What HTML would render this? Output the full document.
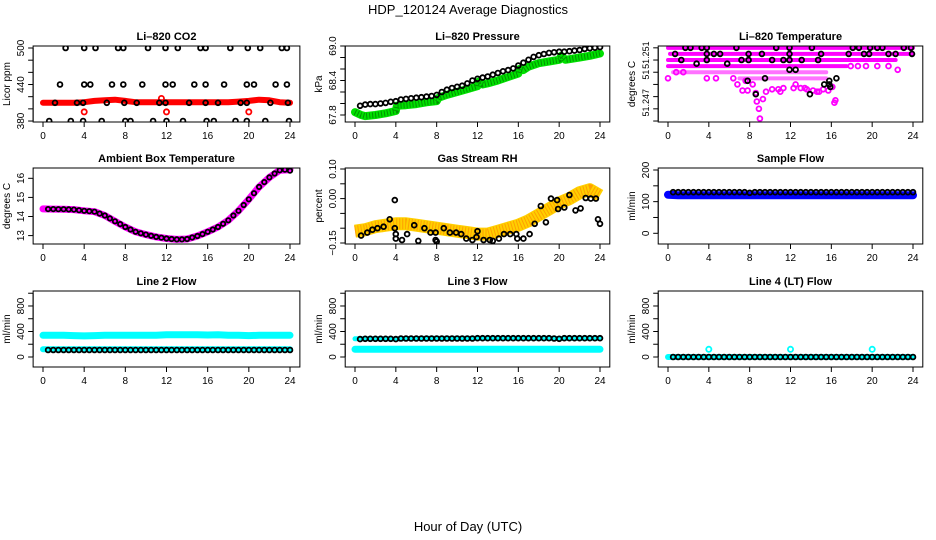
<!DOCTYPE html>
<html><head><meta charset="utf-8"><style>
html,body{margin:0;padding:0;background:#fff;}
svg{display:block;font-family:"Liberation Sans",Arial,sans-serif;}
</style></head><body>
<svg id="chart" width="936" height="540" viewBox="0 0 936 540" xmlns="http://www.w3.org/2000/svg">
<text x="468" y="14" text-anchor="middle" font-size="13">HDP_120124  Average Diagnostics</text>
<text x="468" y="531" text-anchor="middle" font-size="13">Hour of Day (UTC)</text>
</svg>
<script>
// ---------- data ----------
const blackHours=[0.5,1,1.5,2,2.5,3,3.5,4,4.5,5,5.5,6,6.5,7,7.5,8,8.5,9,9.5,10,10.5,11,11.5,12,12.5,13,13.5,14,14.5,15,15.5,16,16.5,17,17.5,18,18.5,19,19.5,20,20.5,21,21.5,22,22.5,23,23.5,24];
const bandHours=[0,1,2,3,4,5,6,7,8,9,10,11,12,13,14,15,16,17,18,19,20,21,22,23,24];
const xTicks=[0,4,8,12,16,20,24];

// CO2
const co2Band=[410,410,410,410,411,413,414,415,413,411,411,411,411,411,411,411,411,411,411,412,413,415,414,411,410];
const co2BlackHours=[2.2,4.0,5.1,7.3,7.8,10.2,11.9,13.1,15.3,15.8,18.2,19.9,21.1,23.2,23.7,1.65,4.0,4.6,6.7,7.8,9.65,11.9,12.6,14.7,15.8,17.6,19.8,20.5,22.6,23.7,1.17,3.3,3.9,6.2,7.9,9.1,11.3,11.9,14.2,15.8,17.0,19.2,19.8,22.1,23.8,0.6,2.7,3.9,5.7,8.0,8.5,10.7,12.0,13.6,15.9,16.6,18.7,19.8,21.6,23.9];
const co2BlackValues=[500,500,500,500,500,500,500,500,500,500,500,500,500,500,500,440,440,440,440,440,440,440,440,440,440,440,440,440,440,440,410,410,410,410,410,410,410,410,410,410,410,410,410,410,410,380,380,380,380,380,380,380,380,380,380,380,380,380,380,380];
const co2RedHours=[4,12,20,11.5];
const co2RedValues=[395,395,395,417];

// Pressure
const presBlack=[67.96,67.98,67.99,67.99,68.0,68.01,68.03,68.04,68.07,68.08,68.09,68.1,68.11,68.12,68.13,68.15,68.2,68.24,68.27,68.29,68.31,68.35,68.4,68.43,68.45,68.47,68.5,68.53,68.56,68.58,68.61,68.66,68.71,68.76,68.81,68.84,68.86,68.88,68.89,68.9,68.9,68.91,68.92,68.93,68.95,68.96,68.97,68.98];
const presGreenHours=[0,0.6,1,2,3,4,4.1,5,6,7,8,8.2,9,10,11,12,12.1,12.5,13,14,15,16,16.1,16.5,17,18,19,20,20.2,20.6,21,22,23,24];
const presGreenValues=[67.85,67.8,67.78,67.8,67.83,67.87,67.96,67.97,67.99,68.02,68.04,68.1,68.15,68.2,68.25,68.3,68.38,68.33,68.35,68.4,68.46,68.52,68.6,68.58,68.64,68.7,68.73,68.76,68.83,68.76,68.77,68.8,68.83,68.87];

// Li-820 temperature
const tRowValues=[51.252,51.2515,51.251,51.2505,51.25,51.2495];
const tRowStart=[0,0.2,0,0,0.5,7];
const tRowEnd=[24,23.9,22.3,17.5,15.5,15.5];
const tMagHours=[0,0.8,1.5,3.8,4.7,6.4,6.8,7.3,7.8,8.3,8.6,8.9,9.3,9.6,10.2,10.8,11.3,12.5,13.0,13.6,14.2,14.8,15.2,15.7,16.1,16.4,17.9,18.6,19.4,20.5,21.6,22.5,9.0,8.7,12.3,13.4,11.0,16.3,7.6,14.6];
const tMagValues=[51.2495,51.25,51.25,51.2495,51.2495,51.2495,51.249,51.2485,51.2485,51.249,51.2483,51.247,51.2478,51.2484,51.2486,51.2486,51.2487,51.249,51.2487,51.2486,51.2485,51.2484,51.2486,51.2485,51.2488,51.2477,51.2505,51.2505,51.2505,51.2505,51.2505,51.2502,51.2462,51.2476,51.2487,51.2487,51.2484,51.2475,51.2493,51.2484];
const tBlackHours=[1.7,2.2,3.3,3.8,6.7,10.6,11.9,14.1,18.1,18.7,19.8,20.5,21.0,23.1,23.8,0.7,3.8,4.5,5.1,7.9,9.2,11.9,15.0,17.7,19.2,19.7,21.6,22.3,23.9,1.3,3.8,7.2,7.9,10.2,11.3,11.9,13.1,14.7,2.8,5.8,11.9,12.5,9.5,16.5,7.8,15.8,15.3,15.8,15.9,8.6,13.9];
const tBlackValues=[51.252,51.252,51.252,51.252,51.252,51.252,51.252,51.252,51.252,51.252,51.252,51.252,51.252,51.252,51.252,51.2515,51.2515,51.2515,51.2515,51.2515,51.2515,51.2515,51.2515,51.2515,51.2515,51.2515,51.2515,51.2515,51.2515,51.251,51.251,51.251,51.251,51.251,51.251,51.251,51.251,51.251,51.2507,51.2507,51.2502,51.2502,51.2495,51.2495,51.2493,51.2493,51.249,51.249,51.2488,51.2482,51.2482];

// Ambient box temperature
const ambBand=[14.4,14.39,14.38,14.36,14.3,14.25,14.05,13.75,13.45,13.2,13.05,12.93,12.85,12.8,12.82,12.98,13.2,13.45,13.8,14.3,14.9,15.55,16.05,16.42,16.45];
const ambBlack=[14.39,14.39,14.38,14.38,14.37,14.36,14.33,14.3,14.28,14.25,14.15,14.05,13.9,13.75,13.6,13.45,13.32,13.2,13.12,13.05,12.99,12.93,12.89,12.85,12.82,12.8,12.8,12.82,12.9,12.98,13.08,13.2,13.32,13.45,13.62,13.8,14.05,14.3,14.6,14.9,15.22,15.55,15.8,16.05,16.25,16.42,16.45,16.4];

// Gas stream RH
const rhBand=[-0.11,-0.105,-0.095,-0.09,-0.085,-0.085,-0.09,-0.095,-0.1,-0.105,-0.11,-0.115,-0.12,-0.12,-0.11,-0.1,-0.09,-0.075,-0.055,-0.035,-0.015,0.0,0.02,0.03,0.01];
const rhBlackHours=[0.6,1.2,1.7,2.2,2.8,3.4,3.9,3.9,4.0,4.0,4.6,5.1,5.8,6.2,6.8,7.4,7.9,7.9,8.0,8.7,9.3,9.9,10.4,10.9,11.5,11.9,12.0,12.6,13.2,13.5,14.1,14.6,15.2,15.8,15.9,16.5,17.1,17.6,18.2,18.7,19.2,19.8,19.9,20.5,21.0,21.6,22.1,22.6,23.1,23.6,23.8,24];
const rhBlackValues=[-0.125,-0.115,-0.105,-0.1,-0.095,-0.07,-0.005,-0.1,-0.12,-0.135,-0.14,-0.12,-0.09,-0.143,-0.1,-0.115,-0.115,-0.14,-0.145,-0.1,-0.115,-0.115,-0.12,-0.135,-0.14,-0.13,-0.11,-0.14,-0.14,-0.143,-0.135,-0.12,-0.12,-0.12,-0.135,-0.135,-0.12,-0.085,-0.025,-0.08,0.0,-0.005,-0.035,-0.03,0.012,-0.04,-0.033,0.002,0.0,0.0,-0.07,-0.085];

// Flows
const sampleBlue=[122,120,120,120,120,120,120,120,120,120,120,120,120,120,120,120,120,120,120,120,120,120,120,120,120];
const sampleBlack=[130,130,130,130,130,130,130,130,130,130,130,130,130,130,130,128,130,130,130,130,130,130,130,130,130,130,130,130,130,130,130,130,130,130,130,130,130,130,130,130,130,130,130,130,130,130,130,130];
const line2CyanHigh=[340,340,340,335,330,335,340,340,340,340,340,340,350,350,350,350,345,350,340,340,335,340,340,340,340];
const line2CyanLow=[120,120,120,120,120,120,120,120,120,120,120,120,120,120,120,120,120,120,120,120,120,120,120,120,120];
const line2Black=[110,110,110,110,110,110,110,110,110,110,110,110,110,110,110,110,110,110,110,110,110,110,110,110,110,110,110,110,110,110,110,110,110,110,110,110,110,110,110,110,110,110,110,110,110,110,110,110];
const line3CyanLow=[120,120,120,120,120,120,120,120,120,120,120,120,120,120,120,120,120,120,120,120,120,120,120,120,120];
const line3CyanHigh=[285,285,285,285,280,290,290,295,295,295,295,295,295,295,295,295,295,295,295,295,290,295,295,295,295];
const line3Black=[280,285,285,285,285,285,285,280,290,290,290,290,290,290,290,290,290,290,290,290,290,290,290,295,295,295,295,295,295,295,295,295,295,295,295,295,295,295,290,285,295,295,295,295,295,295,295,295];
const line4Cyan=[0,0,0,0,0,0,0,0,0,0,0,0,0,0,0,0,0,0,0,0,0,0,0,0,0];
const line4Black=[0,0,0,0,0,0,0,0,0,0,0,0,0,0,0,0,0,0,0,0,0,0,0,0,0,0,0,0,0,0,0,0,0,0,0,0,0,0,0,0,0,0,0,0,0,0,0,0];
const line4SpikeHours=[4,12,20];
const line4SpikeValues=[120,120,120];

// ---------- drawing ----------
const NS="http://www.w3.org/2000/svg";
const svg=document.getElementById('chart');
const cols=[{x0:43,x1:290},{x0:355,x1:600},{x0:668,x1:913}];
const rows=[{top:46,bot:122},{top:168,bot:244},{top:291,bot:367}];
function mk(tag,attrs,parent){const e=document.createElementNS(NS,tag);for(const k in attrs)e.setAttribute(k,attrs[k]);(parent||svg).appendChild(e);return e;}

function makePanel(name,title,ylabel,c,r,yMin,yMax,yTicks,yLabelVals,yLabelText,labelSize){
  const col=cols[c],row=rows[r];
  const X=h=>col.x0+(h/24)*(col.x1-col.x0);
  const Y=v=>row.bot-(v-yMin)/(yMax-yMin)*(row.bot-row.top);
  const g=mk('g',{});
  
  
  const bl=X(-0.96),br=X(24.96);
  const t=mk('text',{x:(bl+br)/2,y:row.top-6,'text-anchor':'middle','font-size':'11','font-weight':'bold'},g);
  t.textContent=title;
  
  
  const yt=mk('text',{transform:`translate(${bl-23},${(row.top+row.bot)/2}) rotate(-90)`,'text-anchor':'middle','font-size':'10'},g);
  yt.textContent=ylabel;
  
  
  const ya=mk('g',{},g);
  
  
  mk('line',{x1:bl,x2:bl,y1:Y(yTicks[0]),y2:Y(yTicks[yTicks.length-1]),stroke:'#000','stroke-width':1},ya);
  yTicks.forEach(v=>{mk('line',{x1:bl-5,x2:bl,y1:Y(v),y2:Y(v),stroke:'#000','stroke-width':1},ya);});
  yLabelVals.forEach((v,i)=>{const tx=mk('text',{transform:`translate(${bl-9},${Y(v)}) rotate(-90)`,'text-anchor':'middle','font-size':labelSize||'10'},ya);tx.textContent=yLabelText[i];});
  const xa=mk('g',{},g);
  
  
  mk('line',{x1:X(0),x2:X(24),y1:row.bot,y2:row.bot,stroke:'#000','stroke-width':1},xa);
  xTicks.forEach(h=>{mk('line',{x1:X(h),x2:X(h),y1:row.bot,y2:row.bot+5,stroke:'#000','stroke-width':1},xa);
    const tx=mk('text',{x:X(h),y:row.bot+17,'text-anchor':'middle','font-size':'10'},xa);tx.textContent=String(h);});
  const clipId='clip-'+name;
  const cp=mk('clipPath',{id:clipId},g);mk('rect',{x:bl,y:row.top,width:br-bl,height:row.bot-row.top},cp);
  const plot=mk('g',{'clip-path':`url(#${clipId})`},g);
  const box=mk('rect',{x:bl,y:row.top,width:br-bl,height:row.bot-row.top,fill:'none',stroke:'#000','stroke-width':1},g);
  
  
  return {X,Y,plot};
}
function band(p,name,hours,vals,color,w,dot,cap){
  const d=hours.map((h,i)=>(i?'L':'M')+p.X(h).toFixed(1)+','+p.Y(vals[i]).toFixed(1)).join('');
  const e=mk('path',{d,fill:'none',stroke:color,'stroke-width':w,'stroke-linejoin':'round','stroke-linecap':cap||'round'},p.plot);
  
  
  if(dot){mk('path',{d,fill:'none',stroke:dot,'stroke-width':w-2,'stroke-dasharray':'1 2','stroke-linejoin':'round',opacity:0.6},p.plot);}
}
function pts(p,name,hours,vals,color,r){
  const g=mk('g',{},p.plot);
  
  
  hours.forEach((h,i)=>{mk('circle',{cx:p.X(h).toFixed(1),cy:p.Y(vals[i]).toFixed(1),r:r||2.4,fill:'none',stroke:color,'stroke-width':1.8},g);});
}

// Panel 1: CO2
let p=makePanel('co2','Li\u2013820 CO2','Licor ppm',0,0,378.4,503.3,[380,400,420,440,460,480,500],[380,440,500],['380','440','500']);
band(p,'co2-red-band',bandHours,co2Band,'#ff0000',6);
pts(p,'co2-red-points',co2RedHours,co2RedValues,'#ff0000',2.6);
pts(p,'co2-black-points',co2BlackHours,co2BlackValues,'#000');

// Panel 2: Pressure
p=makePanel('pressure','Li\u2013820 Pressure','kPa',1,0,67.678,69.0,[67.8,68.0,68.2,68.4,68.6,68.8,69.0],[67.8,68.4,69.0],['67.8','68.4','69.0']);
band(p,'pressure-green-band',presGreenHours,presGreenValues,'#00e000',8,'#006000');
pts(p,'pressure-black-points',blackHours,presBlack,'#000');

// Panel 3: Li-820 temperature
p=makePanel('li820-temp','Li\u2013820 Temperature','degrees C',2,0,51.24592,51.25215,[51.246,51.247,51.248,51.249,51.25,51.251,51.252],[51.2514,51.2498,51.2475],['51.251','51','51.247'],'9');
{const g=mk('g',{},p.plot);
 tRowValues.forEach((v,i)=>{mk('line',{x1:p.X(tRowStart[i]),x2:p.X(tRowEnd[i]),y1:p.Y(v),y2:p.Y(v),stroke:'#ff00ff','stroke-width':4,'stroke-linecap':'round',opacity:i>3?0.55:1},g);});}
pts(p,'li820-temp-magenta-points',tMagHours,tMagValues,'#ff00ff');
pts(p,'li820-temp-black-points',tBlackHours,tBlackValues,'#000');

// Panel 4: Ambient
p=makePanel('ambient-temp','Ambient Box Temperature','degrees C',0,1,12.56,16.54,[13,14,15,16],[13,14,15,16],['13','14','15','16']);
band(p,'ambient-magenta-band',bandHours,ambBand,'#ff00ff',7);
pts(p,'ambient-black-points',blackHours,ambBlack,'#000',2.2);

// Panel 5: RH
p=makePanel('gas-rh','Gas Stream RH','percent',1,1,-0.1534,0.1034,[-0.15,-0.10,-0.05,0,0.05,0.10],[-0.15,0,0.10],['\u22120.15','0.00','0.10']);
band(p,'rh-orange-band',bandHours,rhBand,'#ffd000',13,'#ff8000','butt');
pts(p,'rh-black-points',rhBlackHours,rhBlackValues,'#000');

// Panel 6: Sample flow
p=makePanel('sample-flow','Sample Flow','ml/min',2,1,-33.8,206.3,[0,50,100,150,200],[0,100,200],['0','100','200']);
band(p,'sample-flow-blue-band',bandHours,sampleBlue,'#0000ff',8);
pts(p,'sample-flow-black-points',blackHours,sampleBlack,'#000');

// Panel 7: Line 2
p=makePanel('line2-flow','Line 2 Flow','ml/min',0,2,-157,1035,[0,200,400,600,800,1000],[0,400,800],['0','400','800']);
band(p,'line2-cyan-high',bandHours,line2CyanHigh,'#00ffff',7);
band(p,'line2-cyan-low',bandHours,line2CyanLow,'#00ffff',6);
pts(p,'line2-black-points',blackHours,line2Black,'#000');

// Panel 8: Line 3
p=makePanel('line3-flow','Line 3 Flow','ml/min',1,2,-157,1035,[0,200,400,600,800,1000],[0,400,800],['0','400','800']);
band(p,'line3-cyan-high',bandHours,line3CyanHigh,'#00ffff',5);
band(p,'line3-cyan-low',bandHours,line3CyanLow,'#00ffff',7);
pts(p,'line3-black-points',blackHours,line3Black,'#000');

// Panel 9: Line 4
p=makePanel('line4-flow','Line 4 (LT) Flow','ml/min',2,2,-157,1035,[0,200,400,600,800,1000],[0,400,800],['0','400','800']);
band(p,'line4-cyan-band',bandHours,line4Cyan,'#00ffff',6);
pts(p,'line4-black-points',blackHours,line4Black,'#000');
pts(p,'line4-cyan-spikes',line4SpikeHours,line4SpikeValues,'#00ffff',2.6);
</script>
</body></html>
